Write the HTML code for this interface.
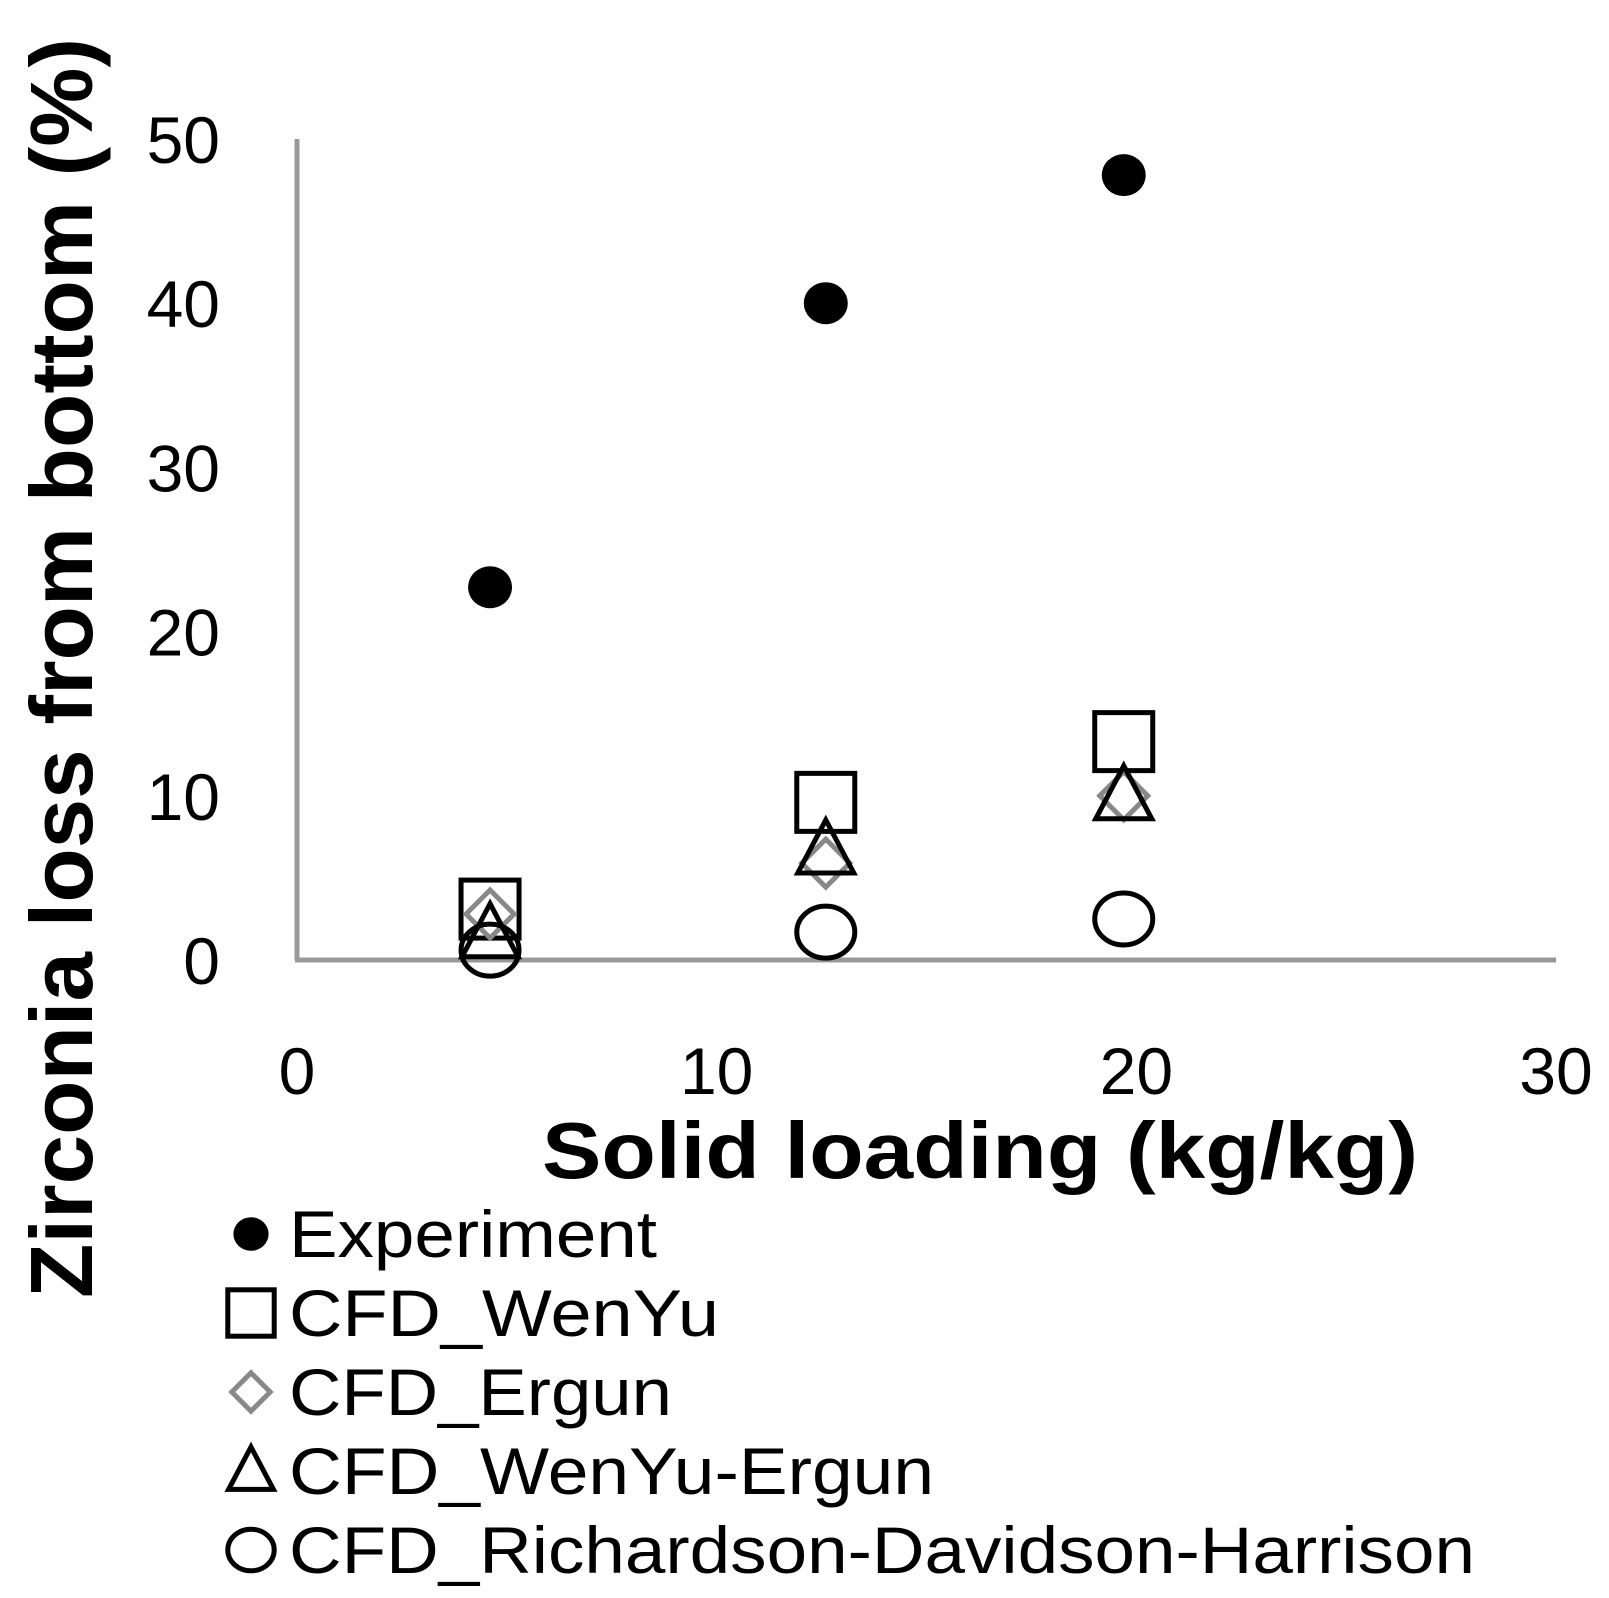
<!DOCTYPE html>
<html><head><meta charset="utf-8"><style>
html,body{margin:0;padding:0;background:#fff;}
svg{display:block;font-family:"Liberation Sans",sans-serif;}
</style></head><body>
<svg id="chart" width="1609" height="1598" viewBox="0 0 1609 1598" xmlns="http://www.w3.org/2000/svg">
<g id="axes"></g>
<g id="marks"></g>
<text x="980" y="1178" font-size="80" font-weight="bold" text-anchor="middle" textLength="876" lengthAdjust="spacingAndGlyphs">Solid loading (kg/kg)</text>
<text transform="translate(92,668) rotate(-90)" font-size="88" font-weight="bold" text-anchor="middle" textLength="1260" lengthAdjust="spacingAndGlyphs">Zirconia loss from bottom (%)</text>
<g id="legend"></g>
</svg>
<script>
const xTicks = [0, 10, 20, 30];
const yTicks = [0, 10, 20, 30, 40, 50];
const xExperiment = [4.6, 12.6, 19.7];
const yExperiment = [22.7, 40.0, 47.8];
const xWenYu = [4.6, 12.6, 19.7];
const yWenYu = [3.1, 9.6, 13.3];
const xErgun = [4.6, 12.6, 19.7];
const yErgun = [2.8, 5.9, 10.0];
const xWenYuErgun = [4.6, 12.6, 19.7];
const yWenYuErgun = [1.6, 6.7, 10.0];
const xRDH = [4.6, 12.6, 19.7];
const yRDH = [0.6, 1.7, 2.5];
const legendLabels = ["Experiment","CFD_WenYu","CFD_Ergun","CFD_WenYu-Ergun","CFD_Richardson-Davidson-Harrison"];

const NS = "http://www.w3.org/2000/svg";
const X0 = 297, X1 = 1556, Y0 = 960, Y1 = 139;
function sx(v){ return X0 + (v - 0) / 30 * (X1 - X0); }
function sy(v){ return Y0 - (v - 0) / 50 * (Y0 - Y1); }
function mk(tag, attrs, parent){ const e = document.createElementNS(NS, tag); for (const k in attrs) e.setAttribute(k, attrs[k]); parent.appendChild(e); return e; }

const axes = document.getElementById('axes');
const yAxis = mk('line', {x1:X0, y1:Y1, x2:X0, y2:Y0, stroke:'#999', 'stroke-width':5}, axes);


const xAxis = mk('line', {x1:X0-2, y1:Y0, x2:X1, y2:Y0, stroke:'#999', 'stroke-width':5}, axes);


xTicks.forEach(t => {
  const e = mk('text', {x:sx(t), y:1094, 'font-size':66, 'text-anchor':'middle', fill:'#000'}, axes);
  e.textContent = t;
  
  
});
yTicks.forEach(t => {
  const e = mk('text', {x:220, y:sy(t)+24, 'font-size':66, 'text-anchor':'end', fill:'#000'}, axes);
  e.textContent = t;
  
  
});

function drawMarker(kind, cx, cy, parent, scale){
  const s = scale || 1;
  let e;
  if (kind === 'exp') e = mk('ellipse', {cx:cx, cy:cy, rx:22*s, ry:21*s, fill:'#000'}, parent);
  else if (kind === 'sq') e = mk('rect', {x:cx-29*s, y:cy-29*s, width:58*s, height:58*s, fill:'none', stroke:'#000', 'stroke-width':5}, parent);
  else if (kind === 'dia') e = mk('polygon', {points:`${cx},${cy-24*s} ${cx+24*s},${cy} ${cx},${cy+24*s} ${cx-24*s},${cy}`, fill:'none', stroke:'#888', 'stroke-width':5}, parent);
  else if (kind === 'tri') e = mk('polygon', {points:`${cx},${cy-30*s} ${cx+28*s},${cy+23*s} ${cx-28*s},${cy+23*s}`, fill:'none', stroke:'#000', 'stroke-width':5}, parent);
  else e = mk('ellipse', {cx:cx, cy:cy, rx:29*s, ry:26*s, fill:'none', stroke:'#000', 'stroke-width':5}, parent);
  return e;
}

const marks = document.getElementById('marks');
const series = [
  ['exp', xExperiment, yExperiment, 'experiment-point'],
  ['sq', xWenYu, yWenYu, 'wenyu-point'],
  ['dia', xErgun, yErgun, 'ergun-point'],
  ['tri', xWenYuErgun, yWenYuErgun, 'wenyu-ergun-point'],
  ['circ', xRDH, yRDH, 'rdh-point']
];
series.forEach(([kind, xs, ys, name]) => {
  xs.forEach((xv, i) => {
    const e = drawMarker(kind, sx(xv), sy(ys[i]), marks);
    
    
  });
});

const legend = document.getElementById('legend');
const kinds = ['exp','sq','dia','tri','circ'];
const rowY = [1234, 1313, 1392, 1471, 1550];
const widths = [368, 430, 383, 645, 1186];
legendLabels.forEach((lab, i) => {
  const m = drawMarker(kinds[i], 251, rowY[i], legend, 0.8);
  
  
  const t = mk('text', {x:289, y:rowY[i]+23, 'font-size':66, fill:'#000', textLength:widths[i], lengthAdjust:'spacingAndGlyphs'}, legend);
  t.textContent = lab;
  
  
});
</script>
</body></html>
